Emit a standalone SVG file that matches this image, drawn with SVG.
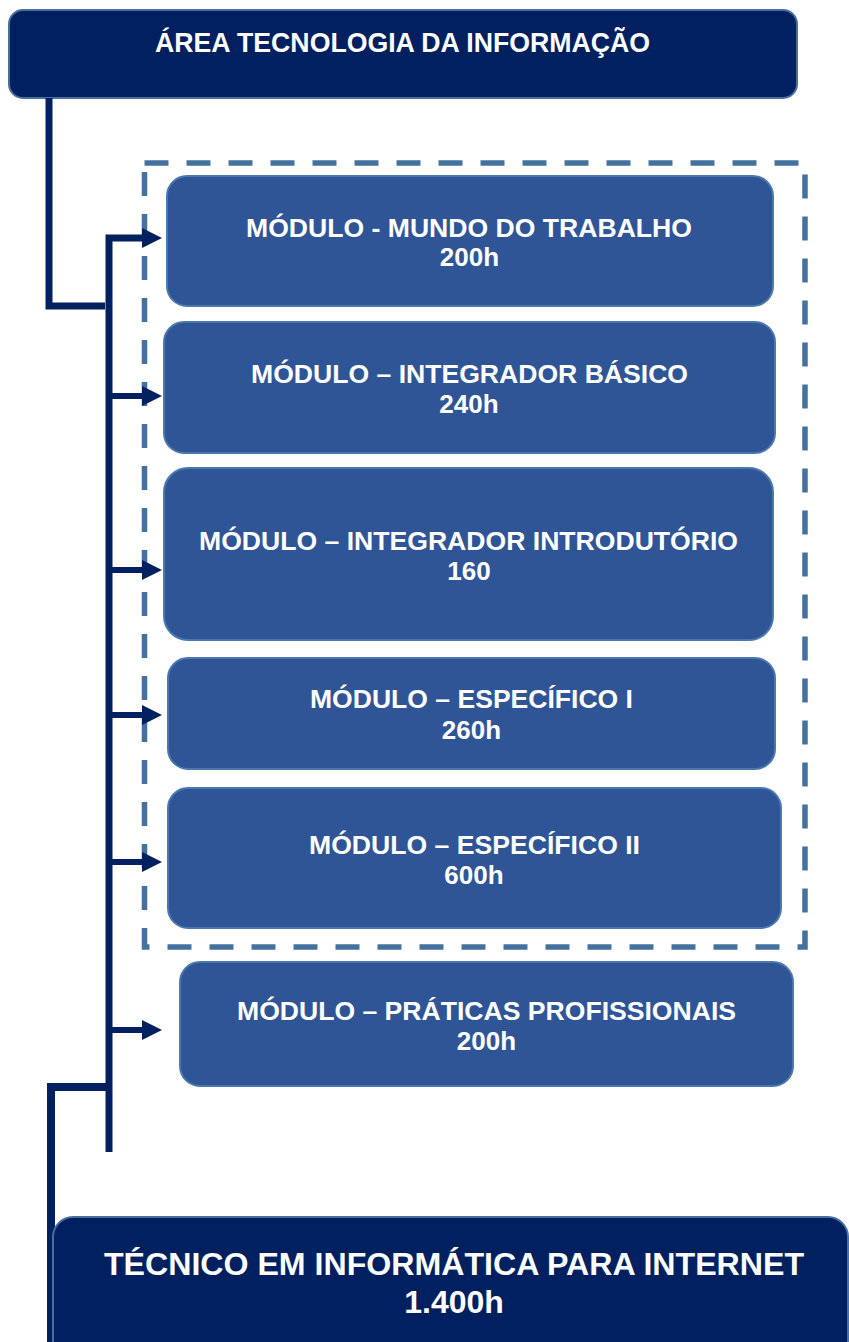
<svg xmlns="http://www.w3.org/2000/svg" width="849" height="1342" viewBox="0 0 849 1342">
<style>
.dark{fill:#002060;stroke:#4A6E9E;stroke-width:2}
.mod{fill:#2F5597;stroke:#4A79AE;stroke-width:2}
.t{font-family:"Liberation Sans",Arial,sans-serif;font-weight:bold;fill:#FFFFFF;text-anchor:middle}
.m{font-size:26px}
.line{fill:none;stroke:#002060;stroke-width:7}
.arr{fill:none;stroke:#002060;stroke-width:6}
.dash{fill:none;stroke:#44729F;stroke-width:5.5;stroke-dasharray:24 18}
</style>
<defs>
<marker id="ah" markerUnits="userSpaceOnUse" markerWidth="20" markerHeight="20" viewBox="0 0 18 18" refX="0" refY="9" orient="auto">
<path d="M0 0 L18 9 L0 18 Z" fill="#002060"/>
</marker>
</defs>
<rect class="dash" x="144.5" y="163" width="660.5" height="784"/>
<g id="top">
<rect class="dark" x="9" y="10" width="788" height="88" rx="14"/>
<text class="t" x="402.5" y="52" font-size="28" textLength="495" lengthAdjust="spacingAndGlyphs">ÁREA TECNOLOGIA DA INFORMAÇÃO</text>
</g>
<g id="m1">
<rect class="mod" x="167" y="176" width="606" height="130" rx="20"/>
<text class="t m" x="469" y="236.5" textLength="446" lengthAdjust="spacingAndGlyphs">MÓDULO - MUNDO DO TRABALHO</text>
<text class="t m" x="469.5" y="266">200h</text>
</g>
<g id="m2">
<rect class="mod" x="164" y="322" width="611" height="131" rx="20"/>
<text class="t m" x="469.5" y="382.5" textLength="437" lengthAdjust="spacingAndGlyphs">MÓDULO – INTEGRADOR BÁSICO</text>
<text class="t m" x="469" y="413">240h</text>
</g>
<g id="m3">
<rect class="mod" x="164" y="468" width="609" height="172" rx="24"/>
<text class="t m" x="468.5" y="549.5" textLength="539" lengthAdjust="spacingAndGlyphs">MÓDULO – INTEGRADOR INTRODUTÓRIO</text>
<text class="t m" x="469" y="580">160</text>
</g>
<g id="m4">
<rect class="mod" x="168" y="658" width="607" height="111" rx="20"/>
<text class="t m" x="471.5" y="707.5" textLength="323" lengthAdjust="spacingAndGlyphs">MÓDULO – ESPECÍFICO I</text>
<text class="t m" x="471.5" y="739">260h</text>
</g>
<g id="m5">
<rect class="mod" x="168" y="788" width="613" height="140" rx="20"/>
<text class="t m" x="474.5" y="853.5" textLength="331" lengthAdjust="spacingAndGlyphs">MÓDULO – ESPECÍFICO II</text>
<text class="t m" x="474" y="884">600h</text>
</g>
<g id="m6">
<rect class="mod" x="180" y="962" width="613" height="124" rx="20"/>
<text class="t m" x="486.5" y="1019.5" textLength="499" lengthAdjust="spacingAndGlyphs">MÓDULO – PRÁTICAS PROFISSIONAIS</text>
<text class="t m" x="486.5" y="1050">200h</text>
</g>
<g id="connectors">
<path class="line" d="M49 98 V306 H105"/>
<path class="line" d="M109 1152 V238 H142" marker-end="url(#ah)"/>
<path class="arr" d="M109 396 H142" marker-end="url(#ah)"/>
<path class="arr" d="M109 570 H142" marker-end="url(#ah)"/>
<path class="arr" d="M109 715 H142" marker-end="url(#ah)"/>
<path class="arr" d="M109 862 H142" marker-end="url(#ah)"/>
<path class="arr" d="M109 1030 H142" marker-end="url(#ah)"/>
<path class="line" d="M109 1087 H51 V1342" style="stroke-width:8"/>
</g>
<g id="bottom">
<rect class="dark" x="53" y="1217" width="795" height="160" rx="20"/>
<text class="t" x="454" y="1275" font-size="32" textLength="700" lengthAdjust="spacingAndGlyphs">TÉCNICO EM INFORMÁTICA PARA INTERNET</text>
<text class="t" x="454" y="1313" font-size="32">1.400h</text>
</g>
</svg>
